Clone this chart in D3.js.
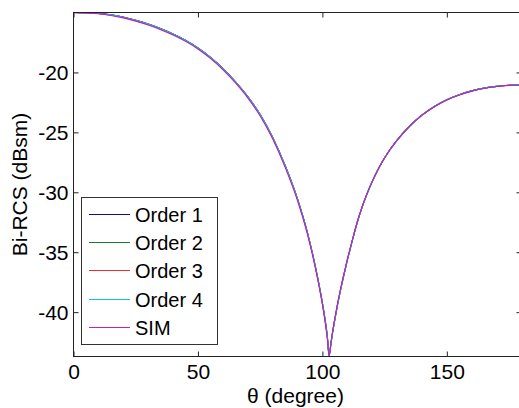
<!DOCTYPE html>
<html>
<head>
<meta charset="utf-8">
<script src="https://cdn.jsdelivr.net/npm/d3@7"></script>
<style>
  html, body { margin: 0; padding: 0; background: #fff; }
  svg { display: block; }
  text { font-family: "Liberation Sans", Arial, sans-serif; fill: #000; }
</style>
</head>
<body>
<svg id="chart" width="519" height="408"></svg>
<script>
// Bistatic RCS versus observation angle: four expansion orders and the simulation
const theta = [0, 5, 10, 15, 20, 25, 30, 35, 40, 45, 50, 55, 60, 65, 70, 75, 80, 85, 90,
  91, 92, 93, 94, 95, 96, 97, 98, 99, 100, 101, 102, 102.7, 103.5,
  104, 105, 106, 107, 108, 109, 110, 111, 112,
  114, 116, 118, 120, 122, 124, 126, 128, 130,
  135, 140, 145, 150, 155, 160, 165, 170, 175, 180];

const order1 = [-15.00, -15.02, -15.07, -15.19, -15.38, -15.64, -15.96, -16.34, -16.79, -17.32, -17.95, -18.73, -19.66, -20.76, -22.01, -23.51, -25.40, -27.75, -30.55,
  -31.20, -31.88, -32.60, -33.37, -34.20, -35.08, -36.02, -37.02, -38.08, -39.22, -40.50, -42.04, -43.55, -42.50,
  -41.82, -40.60, -39.47, -38.43, -37.47, -36.57, -35.67, -34.85, -34.04,
  -32.51, -31.21, -30.09, -29.11, -28.24, -27.47, -26.79, -26.19, -25.65,
  -24.48, -23.55, -22.84, -22.28, -21.86, -21.54, -21.31, -21.16, -21.07, -21.03];
const order2 = [-15.00, -15.02, -15.08, -15.20, -15.39, -15.65, -15.97, -16.35, -16.80, -17.33, -17.96, -18.74, -19.67, -20.77, -22.02, -23.52, -25.41, -27.76, -30.56,
  -31.21, -31.89, -32.61, -33.38, -34.21, -35.09, -36.03, -37.03, -38.09, -39.24, -40.52, -42.07, -43.60, -42.53,
  -41.84, -40.61, -39.48, -38.44, -37.48, -36.58, -35.68, -34.86, -34.05,
  -32.52, -31.22, -30.10, -29.12, -28.25, -27.48, -26.80, -26.20, -25.66,
  -24.49, -23.56, -22.84, -22.28, -21.86, -21.54, -21.31, -21.16, -21.07, -21.03];
const order3 = [-15.00, -15.02, -15.08, -15.20, -15.39, -15.65, -15.97, -16.35, -16.80, -17.33, -17.96, -18.74, -19.67, -20.77, -22.02, -23.52, -25.42, -27.77, -30.57,
  -31.22, -31.90, -32.62, -33.39, -34.22, -35.10, -36.04, -37.04, -38.10, -39.25, -40.54, -42.09, -43.65, -42.55,
  -41.85, -40.62, -39.48, -38.44, -37.48, -36.58, -35.68, -34.86, -34.05,
  -32.52, -31.22, -30.10, -29.12, -28.25, -27.48, -26.80, -26.20, -25.66,
  -24.49, -23.56, -22.84, -22.28, -21.86, -21.54, -21.31, -21.16, -21.07, -21.03];
const order4 = [-15.00, -15.02, -15.08, -15.20, -15.39, -15.65, -15.97, -16.35, -16.80, -17.33, -17.96, -18.74, -19.67, -20.77, -22.02, -23.52, -25.42, -27.77, -30.57,
  -31.22, -31.90, -32.62, -33.39, -34.22, -35.10, -36.04, -37.04, -38.10, -39.25, -40.54, -42.10, -43.66, -42.56,
  -41.85, -40.62, -39.48, -38.44, -37.48, -36.58, -35.68, -34.86, -34.05,
  -32.52, -31.22, -30.10, -29.12, -28.25, -27.48, -26.80, -26.20, -25.66,
  -24.49, -23.56, -22.84, -22.28, -21.86, -21.54, -21.31, -21.16, -21.07, -21.03];
const sim = [-15.01, -15.04, -15.11, -15.25, -15.45, -15.72, -16.05, -16.43, -16.88, -17.41, -18.04, -18.83, -19.76, -20.86, -22.12, -23.63, -25.54, -27.90, -30.70,
  -31.35, -32.03, -32.75, -33.51, -34.34, -35.21, -36.14, -37.14, -38.20, -39.36, -40.66, -42.25, -43.70, -42.45,
  -41.74, -40.51, -39.37, -38.34, -37.39, -36.50, -35.61, -34.80, -34.00,
  -32.48, -31.19, -30.08, -29.11, -28.25, -27.48, -26.81, -26.21, -25.67,
  -24.50, -23.58, -22.86, -22.30, -21.88, -21.56, -21.32, -21.17, -21.08, -21.04];

const seriesNames = ["Order 1", "Order 2", "Order 3", "Order 4", "SIM"];
const seriesValues = [order1, order2, order3, order4, sim];
const seriesColors = ["#101088", "#1a7a2a", "#e83030", "#10c4d0", "#c020c8"];

const xTicks = [0, 50, 100, 150];
const yTicks = [-40, -35, -30, -25, -20];
const xLabel = "\u03b8 (degree)";
const yLabel = "Bi-RCS (dBsm)";

const svg = d3.select("#chart");
const plot = { left: 73.5, top: 12.5, right: 521.5, bottom: 356.5 };

const x = d3.scaleLinear().domain([0, 180]).range([plot.left, plot.right]);
const allVals = seriesValues.flat();
const y = d3.scaleLinear().domain([d3.min(allVals), d3.max(allVals)]).range([plot.bottom, plot.top]);

// clip curves to the axes box
svg.append("defs").append("clipPath").attr("id", "clip")
  .append("rect")
  .attr("x", plot.left).attr("y", plot.top - 1)
  .attr("width", plot.right - plot.left).attr("height", plot.bottom - plot.top + 1.5);

const tickLen = 5;
const fontSize = 21;

// bottom axis, ticks pointing inward
const xAxis = d3.axisBottom(x).tickValues(xTicks).tickSizeInner(-tickLen).tickSizeOuter(0).tickPadding(10);
const gx = svg.append("g").attr("transform", `translate(0,${plot.bottom})`).call(xAxis);
gx.select(".domain").remove();
gx.selectAll("line").attr("stroke", "#222");
gx.selectAll("text").attr("font-size", fontSize).attr("font-family", "Liberation Sans, Arial, sans-serif")
  .attr("y", 22.5).attr("dy", 0);

// top mirrored ticks
const gxt = svg.append("g").attr("transform", `translate(0,${plot.top})`)
  .call(d3.axisTop(x).tickValues(xTicks).tickSizeInner(-tickLen).tickSizeOuter(0).tickFormat(""));
gxt.select(".domain").remove();
gxt.selectAll("line").attr("stroke", "#222");

// left axis
const yAxis = d3.axisLeft(y).tickValues(yTicks).tickSizeInner(-tickLen).tickSizeOuter(0).tickPadding(10)
  .tickFormat(d => d3.format("d")(d).replace("\u2212", "-"));
const gy = svg.append("g").attr("transform", `translate(${plot.left},0)`).call(yAxis);
gy.select(".domain").remove();
gy.selectAll("line").attr("stroke", "#222");
gy.selectAll("text").attr("font-size", fontSize).attr("font-family", "Liberation Sans, Arial, sans-serif")
  .attr("x", -5).attr("dy", "0.36em");

// right mirrored ticks
const gyr = svg.append("g").attr("transform", `translate(${plot.right},0)`)
  .call(d3.axisRight(y).tickValues(yTicks).tickSizeInner(-tickLen).tickSizeOuter(0).tickFormat(""));
gyr.select(".domain").remove();
gyr.selectAll("line").attr("stroke", "#222");

// curves
const line = d3.line().x((d, i) => x(theta[i])).y(d => y(d)).curve(d3.curveMonotoneX);
const curves = svg.append("g").attr("clip-path", "url(#clip)");
seriesValues.forEach((vals, k) => {
  curves.append("path")
    .attr("d", line(vals))
    .attr("fill", "none")
    .attr("stroke", seriesColors[k])
    .attr("stroke-width", 1.1);
});

// axes box
svg.append("rect")
  .attr("x", plot.left).attr("y", plot.top)
  .attr("width", plot.right - plot.left).attr("height", plot.bottom - plot.top)
  .attr("fill", "none").attr("stroke", "#222").attr("stroke-width", 1);

// axis titles
svg.append("text")
  .attr("x", (plot.left + plot.right) / 2 - 2).attr("y", 403)
  .attr("text-anchor", "middle").attr("font-size", fontSize)
  .text(xLabel);
svg.append("text")
  .attr("transform", `translate(27,${(plot.top + plot.bottom) / 2}) rotate(-90)`)
  .attr("text-anchor", "middle").attr("font-size", fontSize)
  .text(yLabel);

// legend
const leg = { x: 81.5, y: 197.5, w: 136, h: 147, rowStart: 213.5, rowStep: 28.4 };
const gl = svg.append("g");
gl.append("rect")
  .attr("x", leg.x).attr("y", leg.y).attr("width", leg.w).attr("height", leg.h)
  .attr("fill", "#fff").attr("stroke", "#333").attr("stroke-width", 1);
seriesNames.forEach((name, k) => {
  const cy = Math.round(leg.rowStart + k * leg.rowStep) + 0.5;
  gl.append("line")
    .attr("x1", 89).attr("x2", 130).attr("y1", cy).attr("y2", cy)
    .attr("stroke", seriesColors[k]).attr("stroke-width", 1.2);
  gl.append("text")
    .attr("x", 135).attr("y", cy + 7.5)
    .attr("font-size", 20)
    .text(name);
});
</script>
</body>
</html>
